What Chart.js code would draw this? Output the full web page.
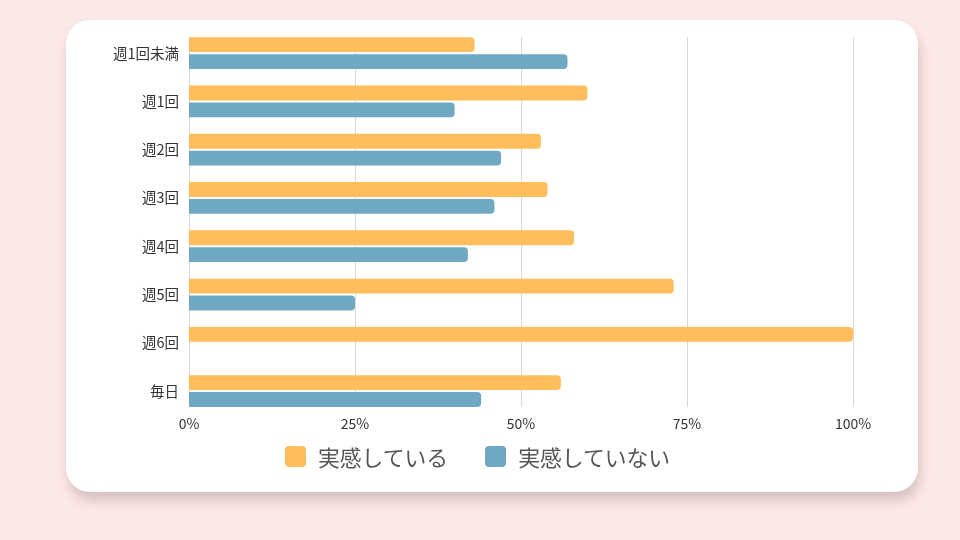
<!DOCTYPE html>
<html><head><meta charset="utf-8">
<script src="https://cdn.jsdelivr.net/npm/chart.js@4"></script>
<style>
html,body{margin:0;padding:0;}
body{width:960px;height:540px;background:#fde8e9;position:relative;overflow:hidden;font-family:"Noto Sans CJK JP","Noto Sans",sans-serif;}
#card{position:absolute;left:66px;top:20px;width:852px;height:472px;background:#fff;border-radius:24px;box-shadow:2px 9px 12px rgba(150,120,120,0.35);}
#c{position:absolute;left:0;top:0;}
#legend{position:absolute;left:219px;top:421px;display:flex;align-items:center;font-size:21.8px;color:#555;white-space:nowrap;}
#legend .item{display:flex;align-items:center;margin-right:37px;}
#legend .box{width:21px;height:21px;border-radius:4px;margin-right:12px;}
</style></head><body>
<div id="card"><canvas id="c" width="852" height="472"></canvas><div id="legend"></div></div>
<script>
const categories = ['週1回未満','週1回','週2回','週3回','週4回','週5回','週6回','毎日'];
const seriesNames = ['実感している','実感していない'];
const seriesColors = ['#ffbd5c','#6ea8c3'];
const feel = [43,60,53,54,58,73,100,56];
const notFeel = [57,40,47,46,42,25,0,44];
const tickValues = [0,25,50,75,100];

const FONT = '"Noto Sans CJK JP","Noto Sans",sans-serif';

const gridPlugin = {
  id:'barGrid',
  beforeDatasetsDraw(chart){
    const x = chart.scales.x;
    const m0 = chart.getDatasetMeta(0).data[0];
    const mN = chart.getDatasetMeta(1).data[categories.length-1];
    const top = m0.y - m0.height/2;
    const bottom = mN.y + mN.height/2;
    const ctx = chart.ctx;
    ctx.save();
    ctx.strokeStyle = '#dcd6d8';
    ctx.lineWidth = 1;
    tickValues.forEach(v=>{
      const px = Math.round(x.getPixelForValue(v))+0.5;
      ctx.beginPath(); ctx.moveTo(px, top); ctx.lineTo(px, bottom); ctx.stroke();
    });
    ctx.restore();
  }
};

const chart = new Chart(document.getElementById('c'), {
  type:'bar',
  data:{
    labels:categories,
    datasets:[
      {label:seriesNames[0],data:feel,backgroundColor:seriesColors[0],borderRadius:4,borderSkipped:'start'},
      {label:seriesNames[1],data:notFeel,backgroundColor:seriesColors[1],borderRadius:4,borderSkipped:'start'}
    ]
  },
  options:{
    indexAxis:'y',
    responsive:false,
    animation:false,
    categoryPercentage:0.7,
    barPercentage:0.88,
    layout:{padding:{left:0,right:65,top:9,bottom:60}},
    scales:{
      x:{min:0,max:100,
        afterBuildTicks:(s)=>{s.ticks=tickValues.map(v=>({value:v}));},
        grid:{display:false,drawTicks:false},
        border:{display:false},
        ticks:{padding:0,color:'#333',font:{family:FONT,size:14},callback:v=>v+'%'}},
      y:{grid:{display:false,drawTicks:false},border:{display:false},
        afterFit:(s)=>{s.width=123;s.paddingTop=0;s.paddingBottom=0;},
        ticks:{padding:10,color:'#333',font:{family:FONT,size:14.5}}}
    },
    plugins:{
      legend:{display:false},
      tooltip:{enabled:false}
    }
  },
  plugins:[gridPlugin]
});

const lg = document.getElementById('legend');
chart.data.datasets.forEach(ds=>{
  const it = document.createElement('div'); it.className='item';
  const b = document.createElement('span'); b.className='box'; b.style.background = ds.backgroundColor;
  const t = document.createElement('span'); t.textContent = ds.label;
  it.appendChild(b); it.appendChild(t); lg.appendChild(it);
});
</script>
</body></html>
